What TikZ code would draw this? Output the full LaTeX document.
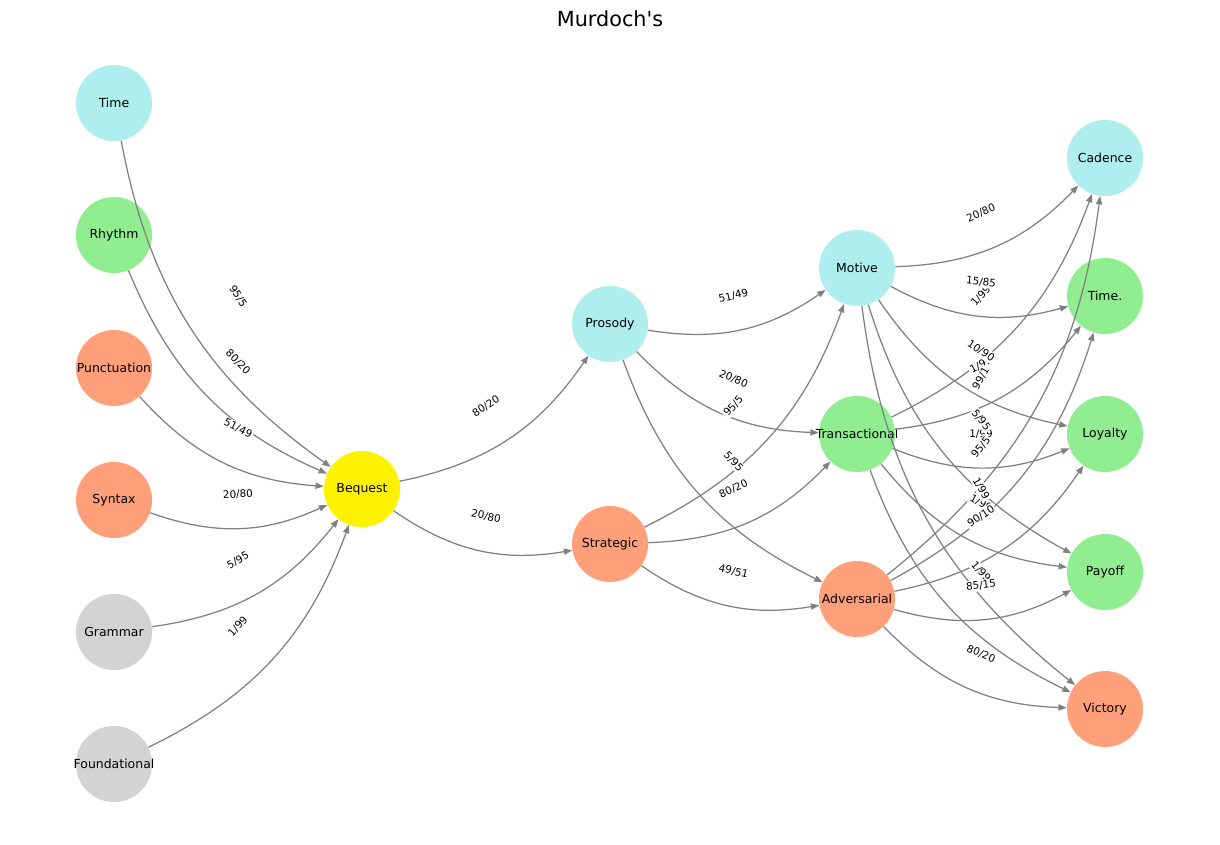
\documentclass[tikz,border=0pt]{standalone}
\usepackage{fontspec}
\setmainfont{DejaVu Sans}
\usepackage{xcolor}
\usetikzlibrary{arrows.meta}

\definecolor{turq}{HTML}{AFEEEE}
\definecolor{lgreen}{HTML}{90EE90}
\definecolor{salmon}{HTML}{FFA07A}
\definecolor{lgray}{HTML}{D3D3D3}

\begin{document}
\begin{tikzpicture}[
    x=0.01in, y=-0.01in,
    vertex/.style={circle, minimum size=0.76in, inner sep=0pt, font=\fontsize{9}{11}\selectfont},
    edge/.style={-{Triangle[length=6pt, width=4.5pt]}, draw=gray, line width=0.9pt, bend right=22},
    wlabel/.style={sloped, fill=white, inner sep=1pt, font=\fontsize{7.5}{9}\selectfont}
]
    \useasboundingbox (0,0) rectangle (1220,844);

    % Title
    \node[font=\fontsize{15}{18}\selectfont] (title) at (610,19) {Murdoch\textquotesingle s};

    % Left column
    \node[vertex, fill=turq] (time) at (114,103) {Time};
    \node[vertex, fill=lgreen] (rhythm) at (114,235) {Rhythm};
    \node[vertex, fill=salmon] (punct) at (114,368) {\makebox[0pt]{Punctuation}};
    \node[vertex, fill=salmon] (syntax) at (114,500) {Syntax};
    \node[vertex, fill=lgray] (grammar) at (114,632) {Grammar};
    \node[vertex, fill=lgray] (found) at (114,764) {\makebox[0pt]{Foundational}};

    % Middle
    \node[vertex, fill=yellow] (bequest) at (362,489) {Bequest};
    \node[vertex, fill=turq] (prosody) at (610,324) {Prosody};
    \node[vertex, fill=salmon] (strategic) at (610,544) {Strategic};
    \node[vertex, fill=turq] (motive) at (857,268) {Motive};
    \node[vertex, fill=lgreen] (trans) at (857,434) {\makebox[0pt]{Transactional}};
    \node[vertex, fill=salmon] (advers) at (857,599) {Adversarial};

    % Right column
    \node[vertex, fill=turq] (cadence) at (1105,158) {Cadence};
    \node[vertex, fill=lgreen] (timedot) at (1105,296) {Time.};
    \node[vertex, fill=lgreen] (loyalty) at (1105,434) {Loyalty};
    \node[vertex, fill=lgreen] (payoff) at (1105,572) {Payoff};
    \node[vertex, fill=salmon] (victory) at (1105,709) {Victory};

    % Edges into Bequest
    \draw[edge] (time) to (bequest);
    \draw[edge] (rhythm) to (bequest);
    \draw[edge] (punct) to (bequest);
    \draw[edge] (syntax) to (bequest);
    \draw[edge] (grammar) to (bequest);
    \draw[edge] (found) to (bequest);

    % Middle edges
    \draw[edge] (bequest) to (prosody);
    \draw[edge] (bequest) to (strategic);
    \draw[edge] (prosody) to (motive);
    \draw[edge] (prosody) to (trans);
    \draw[edge] (prosody) to (advers);
    \draw[edge] (strategic) to (motive);
    \draw[edge] (strategic) to (trans);
    \draw[edge] (strategic) to (advers);

    % Edges to the outcomes
    \draw[edge] (motive) to (cadence);
    \draw[edge] (motive) to (timedot);
    \draw[edge] (motive) to (loyalty);
    \draw[edge] (motive) to (payoff);
    \draw[edge] (motive) to (victory);
    \draw[edge] (trans) to (cadence);
    \draw[edge] (trans) to (timedot);
    \draw[edge] (trans) to (loyalty);
    \draw[edge] (trans) to (payoff);
    \draw[edge] (trans) to (victory);
    \draw[edge] (advers) to (cadence);
    \draw[edge] (advers) to (timedot);
    \draw[edge] (advers) to (loyalty);
    \draw[edge] (advers) to (payoff);
    \draw[edge] (advers) to (victory);

    % Weights, at the middle of each straight link
    \path (time) -- node[wlabel] {95/5} (bequest);
    \path (rhythm) -- node[wlabel] {80/20} (bequest);
    \path (punct) -- node[wlabel] {51/49} (bequest);
    \path (syntax) -- node[wlabel] {20/80} (bequest);
    \path (grammar) -- node[wlabel] {5/95} (bequest);
    \path (found) -- node[wlabel] {1/99} (bequest);

    \path (bequest) -- node[wlabel] {80/20} (prosody);
    \path (bequest) -- node[wlabel] {20/80} (strategic);
    \path (prosody) -- node[wlabel] {51/49} (motive);
    \path (prosody) -- node[wlabel] {20/80} (trans);
    \path (prosody) -- node[wlabel] {5/95} (advers);
    \path (strategic) -- node[wlabel] {95/5} (motive);
    \path (strategic) -- node[wlabel] {80/20} (trans);
    \path (strategic) -- node[wlabel] {49/51} (advers);

    \path (trans) -- node[wlabel] {1/99} (cadence);
    \path (trans) -- node[wlabel] {1/99} (timedot);
    \path (trans) -- node[wlabel] {1/99} (loyalty);
    \path (trans) -- node[wlabel] {1/99} (payoff);
    \path (trans) -- node[wlabel] {1/99} (victory);
    \path (motive) -- node[wlabel] {20/80} (cadence);
    \path (motive) -- node[wlabel] {15/85} (timedot);
    \path (motive) -- node[wlabel] {10/90} (loyalty);
    \path (motive) -- node[wlabel] {5/95} (payoff);
    \path (motive) -- node[wlabel] {1/99} (victory);
    \path (advers) -- node[wlabel] {99/1} (cadence);
    \path (advers) -- node[wlabel] {95/5} (timedot);
    \path (advers) -- node[wlabel] {90/10} (loyalty);
    \path (advers) -- node[wlabel] {85/15} (payoff);
    \path (advers) -- node[wlabel] {80/20} (victory);
\end{tikzpicture}
\end{document}
